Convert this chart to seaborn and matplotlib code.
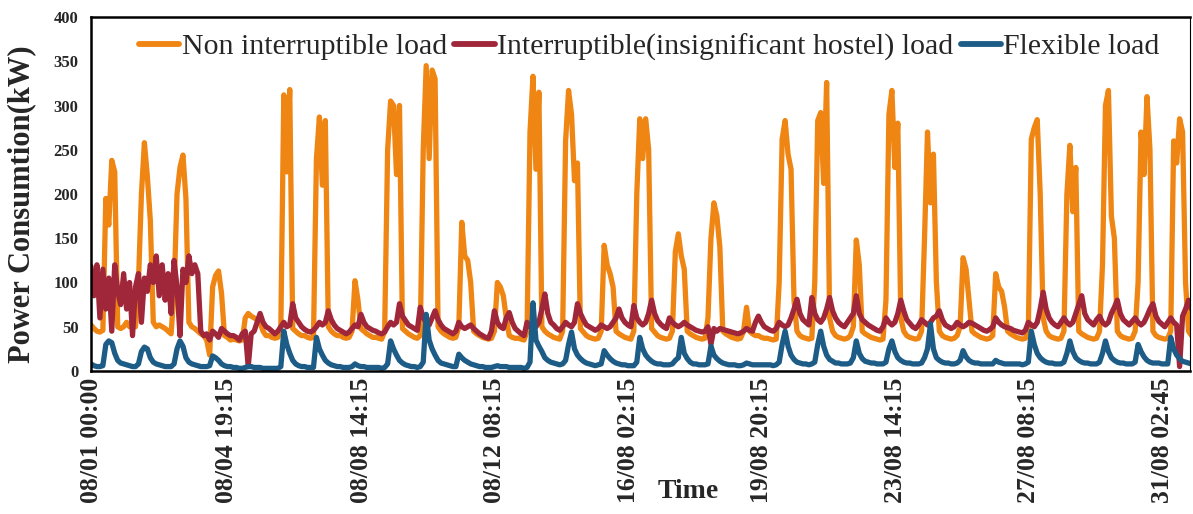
import numpy as np
import pandas as pd
import matplotlib
matplotlib.use("Agg")
import matplotlib.pyplot as plt
import seaborn as sns

# ---- data: one row per day (Aug 1 .. Aug 31), samples every 2 hours (00,02,...,22) ----
non_interruptible = [
    [52, 48, 45, 44, 46, 195, 165, 238, 225, 50, 48, 50],
    [55, 50, 52, 50, 100, 200, 258, 220, 170, 55, 50, 52],
    [50, 48, 45, 42, 90, 200, 230, 244, 195, 55, 50, 48],
    [45, 42, 40, 35, 18, 95, 108, 113, 88, 40, 38, 35],
    [36, 35, 34, 35, 60, 65, 62, 60, 58, 55, 45, 40],
    [40, 38, 37, 38, 50, 312, 225, 318, 48, 45, 42, 40],
    [40, 38, 37, 38, 240, 287, 210, 283, 50, 45, 42, 40],
    [40, 38, 37, 38, 45, 102, 80, 48, 45, 42, 40, 38],
    [38, 37, 36, 45, 250, 305, 300, 222, 300, 48, 45, 42],
    [40, 38, 37, 40, 250, 345, 240, 340, 330, 50, 45, 42],
    [40, 38, 37, 38, 50, 168, 130, 125, 100, 45, 42, 40],
    [38, 37, 36, 37, 45, 100, 95, 85, 60, 40, 38, 37],
    [37, 36, 35, 45, 270, 333, 228, 315, 50, 45, 42, 40],
    [38, 37, 36, 45, 260, 317, 290, 215, 235, 48, 44, 40],
    [38, 37, 36, 37, 45, 142, 120, 110, 95, 45, 42, 40],
    [38, 37, 36, 45, 200, 285, 240, 285, 250, 48, 44, 40],
    [38, 37, 36, 37, 45, 135, 155, 130, 115, 45, 42, 40],
    [38, 37, 36, 37, 60, 150, 190, 175, 140, 45, 42, 40],
    [38, 37, 36, 37, 45, 72, 45, 42, 40, 40, 38, 37],
    [37, 36, 35, 36, 100, 262, 283, 245, 228, 80, 45, 40],
    [38, 37, 36, 37, 100, 283, 292, 212, 326, 60, 45, 40],
    [38, 37, 36, 37, 40, 50, 148, 120, 45, 42, 40, 38],
    [37, 36, 35, 36, 80, 290, 317, 230, 280, 60, 45, 40],
    [38, 37, 36, 37, 45, 150, 270, 190, 245, 100, 45, 40],
    [38, 37, 36, 37, 40, 50, 128, 115, 80, 45, 42, 40],
    [38, 37, 36, 37, 40, 110, 95, 90, 72, 45, 42, 40],
    [38, 37, 36, 37, 45, 262, 275, 284, 200, 60, 45, 40],
    [38, 37, 36, 37, 45, 200, 255, 180, 230, 45, 42, 40],
    [38, 37, 36, 37, 45, 120, 300, 317, 175, 150, 45, 40],
    [38, 37, 36, 37, 45, 100, 270, 222, 310, 250, 45, 40],
    [38, 37, 36, 37, 45, 260, 235, 285, 270, 100, 45, 40],
]
interruptible = [
    [118, 85, 120, 60, 115, 70, 105, 45, 120, 90, 75, 110],
    [70, 100, 40, 95, 110, 55, 105, 90, 120, 100, 130, 85],
    [120, 80, 110, 65, 125, 95, 40, 115, 100, 130, 110, 120],
    [110, 45, 40, 42, 35, 45, 42, 38, 48, 45, 42, 40],
    [40, 38, 35, 42, 45, 5, 42, 45, 55, 65, 55, 50],
    [48, 45, 42, 45, 50, 55, 50, 52, 76, 60, 55, 50],
    [47, 45, 44, 46, 50, 55, 52, 55, 68, 58, 52, 48],
    [46, 44, 42, 44, 48, 52, 50, 64, 55, 50, 48, 46],
    [45, 43, 42, 44, 50, 55, 52, 55, 76, 62, 57, 52],
    [50, 48, 46, 72, 60, 55, 52, 60, 68, 58, 52, 48],
    [46, 44, 42, 45, 55, 50, 48, 50, 52, 48, 45, 42],
    [40, 38, 37, 45, 68, 55, 50, 48, 60, 66, 55, 48],
    [45, 42, 40, 55, 50, 52, 50, 55, 70, 87, 65, 55],
    [52, 48, 46, 50, 55, 52, 50, 55, 76, 65, 58, 52],
    [50, 48, 46, 48, 52, 50, 48, 50, 55, 60, 70, 60],
    [55, 52, 50, 74, 60, 55, 52, 55, 65, 80, 65, 57],
    [53, 50, 48, 60, 55, 52, 50, 52, 55, 52, 50, 48],
    [46, 45, 44, 45, 50, 30, 48, 45, 48, 47, 46, 45],
    [44, 43, 42, 43, 45, 48, 46, 45, 55, 62, 55, 50],
    [48, 46, 45, 48, 55, 52, 50, 52, 60, 70, 81, 65],
    [58, 55, 52, 83, 65, 58, 55, 60, 70, 83, 68, 60],
    [55, 52, 50, 55, 60, 65, 85, 65, 58, 55, 52, 50],
    [48, 46, 45, 50, 60, 55, 52, 55, 65, 80, 68, 58],
    [54, 50, 48, 52, 58, 55, 52, 55, 60, 62, 68, 58],
    [52, 50, 48, 50, 55, 52, 50, 52, 55, 54, 52, 50],
    [48, 46, 45, 47, 50, 60, 55, 52, 50, 49, 48, 46],
    [45, 44, 43, 46, 55, 52, 50, 55, 70, 89, 70, 60],
    [55, 52, 50, 55, 60, 55, 52, 55, 65, 75, 85, 65],
    [58, 55, 52, 58, 62, 55, 52, 55, 65, 72, 80, 65],
    [58, 55, 52, 56, 60, 55, 52, 55, 62, 70, 76, 62],
    [56, 53, 50, 55, 60, 55, 52, 5, 62, 70, 80, 70],
]
flexible = [
    [8, 6, 5, 5, 6, 30, 34, 32, 20, 12, 9, 8],
    [7, 6, 5, 5, 8, 22, 27, 25, 15, 10, 8, 7],
    [6, 5, 5, 5, 8, 25, 34, 28, 15, 10, 8, 7],
    [6, 5, 5, 5, 6, 17, 15, 12, 8, 6, 5, 5],
    [4, 4, 3, 3, 4, 5, 5, 4, 4, 4, 3, 3],
    [3, 3, 3, 3, 5, 45, 30, 20, 12, 8, 6, 5],
    [5, 4, 4, 4, 38, 25, 18, 12, 9, 7, 6, 5],
    [5, 4, 4, 4, 5, 8, 6, 5, 5, 4, 4, 4],
    [4, 4, 3, 4, 8, 34, 25, 18, 12, 9, 7, 6],
    [5, 5, 4, 5, 10, 64, 35, 25, 18, 12, 9, 8],
    [7, 6, 5, 5, 19, 15, 12, 10, 8, 7, 6, 5],
    [5, 4, 4, 4, 5, 6, 5, 5, 5, 4, 4, 4],
    [4, 4, 3, 4, 10, 77, 35, 28, 22, 15, 12, 10],
    [9, 8, 7, 8, 12, 30, 44, 25, 18, 14, 11, 9],
    [8, 7, 6, 7, 8, 23, 18, 14, 11, 9, 8, 7],
    [7, 6, 6, 6, 10, 38, 25, 18, 14, 11, 9, 8],
    [8, 7, 7, 7, 8, 12, 15, 38, 20, 14, 10, 8],
    [8, 7, 7, 7, 8, 28, 18, 14, 11, 9, 8, 7],
    [7, 7, 6, 6, 7, 9, 8, 7, 7, 7, 7, 7],
    [7, 7, 6, 7, 10, 30, 45, 28, 18, 13, 10, 9],
    [8, 8, 7, 8, 10, 30, 45, 28, 18, 13, 11, 9],
    [9, 8, 8, 8, 9, 15, 34, 20, 14, 11, 10, 9],
    [9, 8, 8, 8, 10, 25, 34, 22, 15, 12, 10, 9],
    [9, 8, 8, 8, 9, 15, 25, 53, 25, 15, 12, 10],
    [9, 9, 8, 8, 9, 12, 23, 16, 12, 10, 9, 9],
    [8, 8, 8, 8, 8, 12, 10, 9, 8, 8, 8, 8],
    [8, 8, 7, 8, 10, 45, 30, 20, 15, 12, 10, 9],
    [9, 8, 8, 8, 10, 20, 34, 22, 15, 12, 10, 9],
    [9, 8, 8, 8, 10, 20, 34, 22, 15, 12, 10, 9],
    [9, 8, 8, 8, 10, 30, 22, 16, 12, 10, 9, 9],
    [9, 8, 8, 8, 38, 25, 18, 14, 11, 10, 9, 8],
]
series_names = ["Non interruptible load",
                "Interruptible(insignificant hostel) load",
                "Flexible load"]
tick_labels = ["08/01 00:00", "08/04 19:15", "08/08 14:15", "08/12 08:15",
               "16/08 02:15", "19/08 20:15", "23/08 14:15", "27/08 08:15",
               "31/08 02:45"]
tick_hours = [0, 91.25, 182.25, 272.25, 362.25, 452.25, 542.25, 632.25, 722.75]
y_ticks = [0, 50, 100, 150, 200, 250, 300, 350, 400]

# ---- build long table ----
hours = np.arange(len(non_interruptible) * 12) * 2.0
frames = []
for name, vals in zip(series_names, [non_interruptible, interruptible, flexible]):
    frames.append(pd.DataFrame({"hour": hours,
                                "kW": np.array(vals, dtype=float).ravel(),
                                "series": name}))
df = pd.concat(frames, ignore_index=True)

sns.set_theme(style="white")
plt.rcParams["font.family"] = ["Liberation Serif", "DejaVu Serif"]

colors = ["#EF8512", "#A0263A", "#1C5C86"]

fig = plt.figure(figsize=(11.93, 5.14), dpi=100)
ax = fig.add_axes([91 / 1193, 1 - 371 / 514, 1099 / 1193, 354 / 514])

sns.lineplot(data=df, x="hour", y="kW", hue="series", hue_order=series_names,
             palette=colors, linewidth=3.8, ax=ax, estimator=None, sort=False)

ax.set_xlim(0, 741)
ax.set_ylim(0, 400)
ax.set_yticks(y_ticks)
ax.set_yticklabels([str(v) for v in y_ticks], fontsize=12, fontweight="bold")
ax.set_xticks(tick_hours)
ax.set_xticklabels(tick_labels, rotation=90, fontsize=18.5, fontweight="bold")
ax.tick_params(axis="y", length=0, pad=9)
ax.tick_params(axis="x", length=0, pad=5)

for s in ax.spines.values():
    s.set_color("black")
    s.set_linewidth(1.8)
ax.spines["right"].set_linewidth(0.8)

ax.set_ylabel("Power Consumtion(kW)", fontsize=22, fontweight="bold")
ax.yaxis.label.set_verticalalignment("center")
ax.yaxis.set_label_coords(-0.063, 0.47)
ax.set_xlabel("Time", fontsize=20, fontweight="bold")
ax.xaxis.set_label_coords(0.543, -0.305)

handles, labels = ax.get_legend_handles_labels()
for h in handles:
    h.set_linewidth(4.2)
ax.legend(handles, labels, loc="center", bbox_to_anchor=(0.508, 0.915), ncol=3,
          frameon=False, fontsize=21.5, handlelength=1.35, handletextpad=0.08,
          columnspacing=0.25, borderaxespad=0)

fig.savefig("out.png", dpi=100)
